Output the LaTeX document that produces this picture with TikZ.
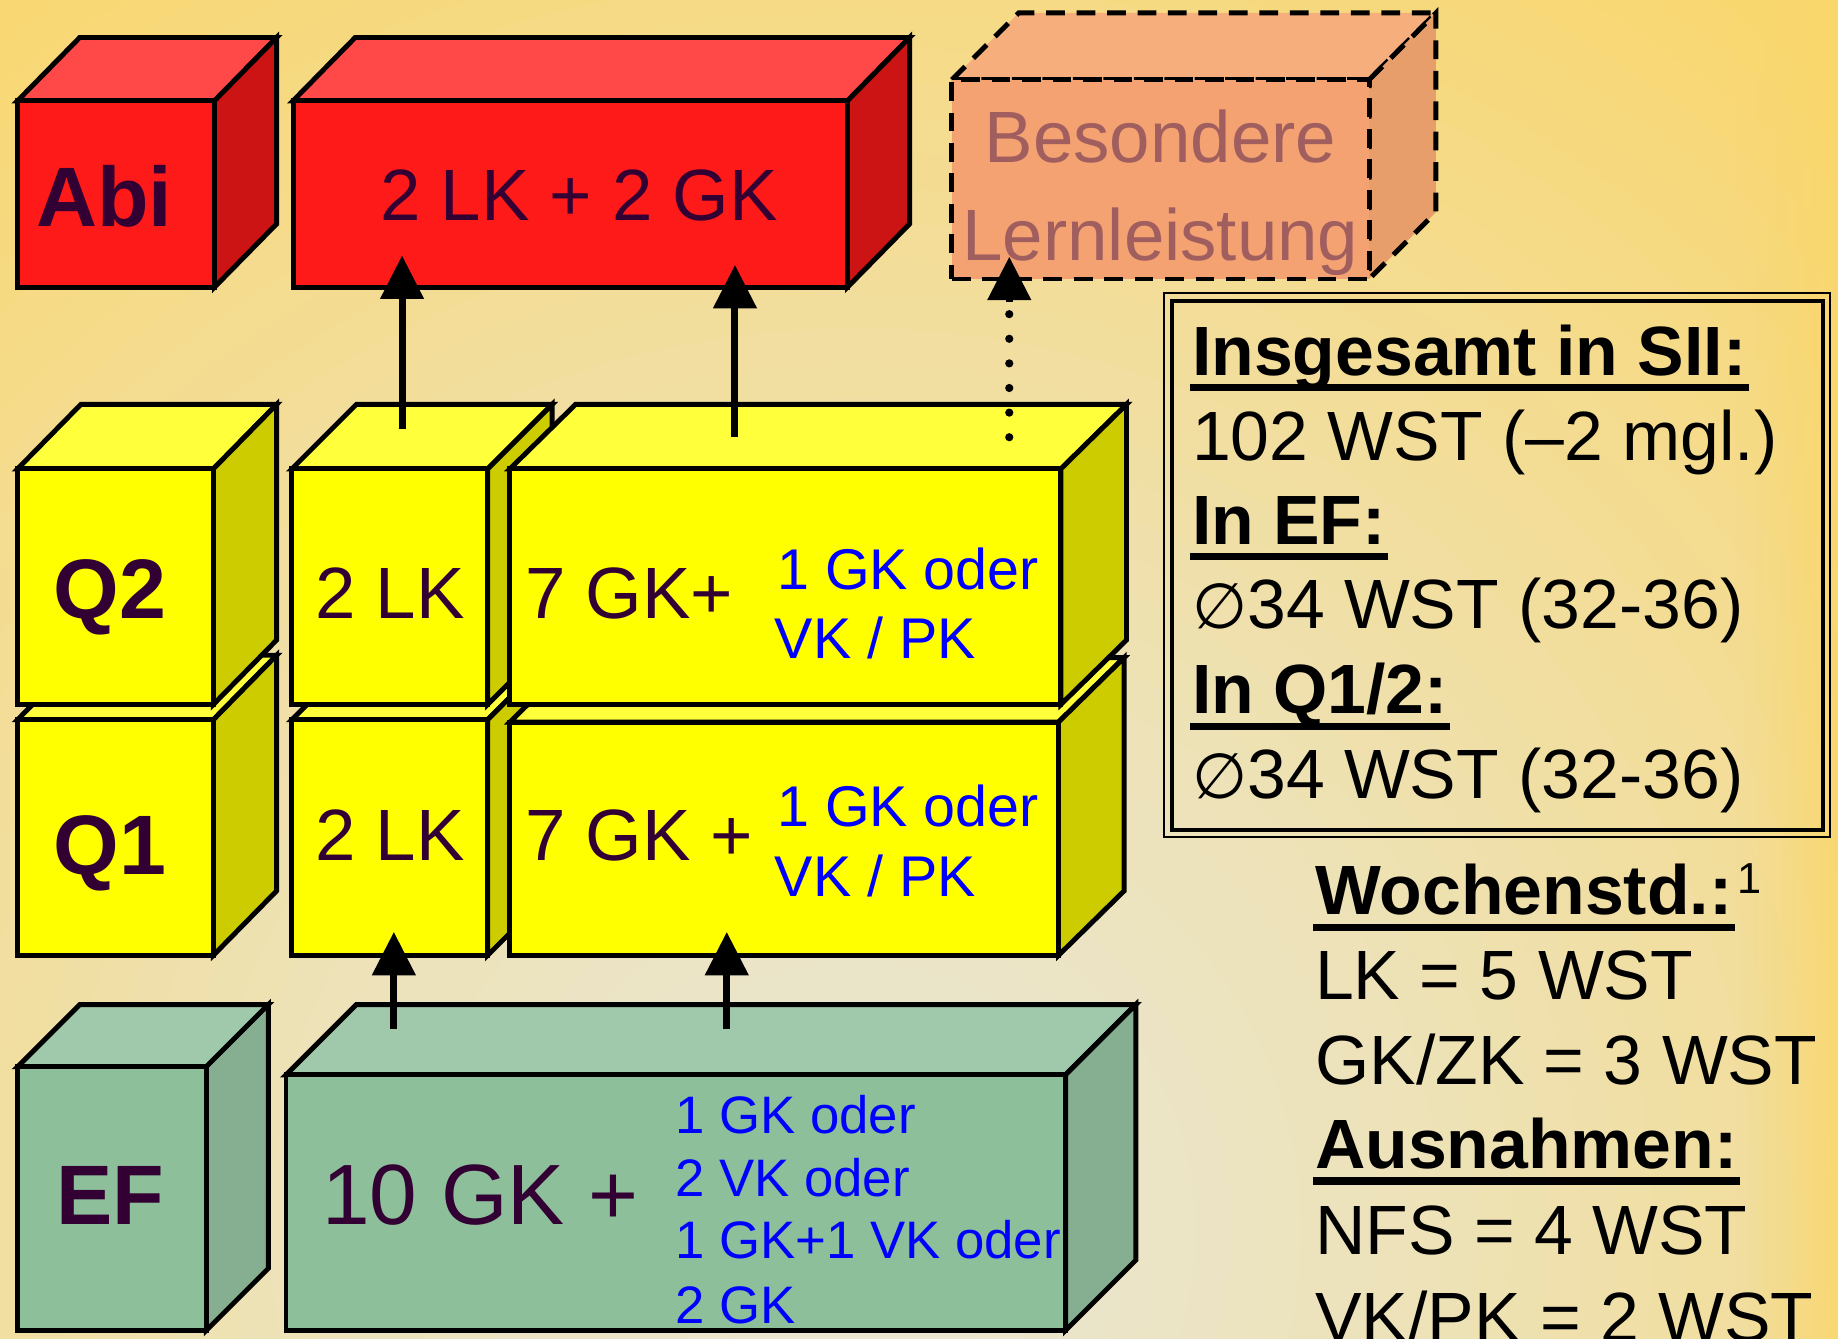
\documentclass[tikz,border=0pt]{standalone}
\usepackage{fontspec}
\setmainfont{Liberation Sans}
\newfontfamily\djv{DejaVu Sans}
\usetikzlibrary{arrows.meta,calc}
\definecolor{redF}{HTML}{FF1A1A}
\definecolor{redT}{HTML}{FF4848}
\definecolor{redS}{HTML}{CC1414}
\definecolor{yelF}{HTML}{FFFF00}
\definecolor{yelT}{HTML}{FFFF3C}
\definecolor{yelS}{HTML}{CCCC00}
\definecolor{grnF}{HTML}{8DBF9B}
\definecolor{grnT}{HTML}{A0C9AB}
\definecolor{grnS}{HTML}{86AF91}
\definecolor{salF}{HTML}{F4A272}
\definecolor{salT}{HTML}{F6AE7C}
\definecolor{salS}{HTML}{E79E6A}
\definecolor{dpurple}{HTML}{330033}
\definecolor{rose}{HTML}{A05E5E}
\definecolor{bgA}{HTML}{E8E6D6}
\definecolor{bgC}{HTML}{EDE2B8}
\definecolor{bgF}{HTML}{F9D770}
\definecolor{bgR}{HTML}{FAD76C}
% #1 extra style, #2 name, #3 x1, #4 y1, #5 x2, #6 y2, #7 dx, #8 dy (up), #9 colour prefix
\newcommand{\cuboid}[9][]{%
  \pgfmathsetmacro\cbw{#5-#3}%
  \pgfmathsetmacro\cbh{#6-#4}%
  \draw[boxedge,#1,fill=#9T] (#3,#4) -- ++(#7,-#8) -- ({#5+#7},{#4-#8}) -- (#5,#4) -- cycle;
  \draw[boxedge,#1,fill=#9S] (#5,#4) -- ++(#7,-#8) -- ({#5+#7},{#6-#8}) -- (#5,#6) -- cycle;
  \node[boxedge,#1,fill=#9F,minimum width=\cbw pt,minimum height=\cbh pt,anchor=north west] (#2) at (#3,#4) {};
}
\newcommand{\uline}[1]{\fill ($(#1.base west)+(-2,7.5)$) rectangle ($(#1.base east)+(2,13.5)$);}
\begin{document}
\begin{tikzpicture}[x=1pt,y=-1pt,
  boxedge/.style={draw=black,line width=4.2pt,inner sep=0pt,outer sep=0pt},
  dashedbox/.style={dash pattern=on 16pt off 10pt},
  txt/.style={inner sep=0pt,outer sep=0pt},
  lbl/.style={txt,text=dpurple,font=\fontsize{72}{80}\selectfont\bfseries},
  big/.style={txt,text=dpurple,font=\fontsize{62}{70}\selectfont},
  bes/.style={txt,text=rose,font=\fontsize{62}{70}\selectfont},
  bl/.style={txt,text=blue,font=\fontsize{49}{59}\selectfont},
  blef/.style={txt,text=blue,font=\fontsize{45}{54}\selectfont},
  inf/.style={txt,text=black,font=\fontsize{59.5}{72}\selectfont},
  infb/.style={txt,text=black,font=\fontsize{59.5}{72}\selectfont\bfseries},
  arr/.style={line width=6pt,draw=black,-{Triangle[length=37pt,width=36pt]}},
  dots/.style={line width=7pt,draw=black,line cap=round,dash pattern=on 0pt off 21pt}
]
\useasboundingbox (0,0) rectangle (1568,1142);
% background: stepped radial gradient plus a yellow band at the right edge
\begin{scope}
  \clip (0,0) rectangle (1568,1142);
  \fill[bgF] (0,0) rectangle (1568,1142);
  \foreach \r in {1400,1370,...,20}{%
    \ifdim\r pt>500pt
      \pgfmathsetmacro\tt{min(100,(\r-500)/8)}%
      \colorlet{cc}{bgF!\tt!bgC}%
    \else
      \pgfmathsetmacro\tt{\r/5}%
      \colorlet{cc}{bgC!\tt!bgA}%
    \fi
    \fill[cc] (730,1050) circle (\r);
  }
  \foreach \i in {0,...,21}{%
    \pgfmathsetmacro\op{0.85*((\i+0.5)/22)^1.3}%
    \fill[bgR,fill opacity=\op] ({1480+4*\i},0) rectangle ({1484+4*\i},1142);
  }
\end{scope}

% Abi row
\cuboid{abil}{15}{86}{183}{245}{53}{54}{red}
\cuboid{abim}{250}{86}{723}{245}{53}{54}{red}
\cuboid[dashedbox]{bll}{812}{68}{1168}{238}{57}{57}{sal}

% Q1 row
\cuboid{qone}{15}{614}{182}{815}{54}{55}{yel}
\cuboid{qonelk}{249}{614}{416}{815}{55}{55}{yel}
\cuboid{qonegk}{435}{616}{903}{815}{56}{55}{yel}
% Q2 row
\cuboid{qtwo}{15}{400}{182}{601}{54}{55}{yel}
\cuboid{qtwolk}{249}{400}{416}{601}{55}{55}{yel}
\cuboid{qtwogk}{435}{400}{905}{601}{56}{55}{yel}
% EF row
\cuboid{efl}{15}{910}{176}{1135}{53}{53}{grn}
\cuboid{efm}{244}{917}{909}{1135}{60}{60}{grn}

% texts in boxes
\node[lbl,anchor=base] (tabi) at (89,193) {Abi};
\node[big,anchor=base] (tabim) at (494,188) {2 LK + 2 GK};
\node[bes,anchor=base] (tbes1) at (990,139) {Besondere};
\node[bes,anchor=base] (tbes2) at (990,222) {Lernleistung};

\node[lbl,anchor=base] (tq2) at (94,528) {Q2};
\node[big,anchor=base west] (tq2lk) at (269,528) {2 LK};
\node[big,anchor=base west] (tq2gk) at (448,528) {7 GK+};
\node[bl,anchor=base west] (tq2b1) at (663,503) {1 GK oder};
\node[bl,anchor=base west] (tq2b2) at (661,562) {VK / PK};

\node[lbl,anchor=base] (tq1) at (94,746) {Q1};
\node[big,anchor=base west] (tq1lk) at (269,734) {2 LK};
\node[big,anchor=base west] (tq1gk) at (448,734) {7 GK +};
\node[bl,anchor=base west] (tq1b1) at (663,705) {1 GK oder};
\node[bl,anchor=base west] (tq1b2) at (661,765) {VK / PK};

\node[lbl,anchor=base] (tef) at (94,1045) {EF};
\node[txt,text=dpurple,font=\fontsize{73}{80}\selectfont,anchor=base west] (tefgk) at (275,1045) {10 GK +};
\node[blef,anchor=base west] (tefb1) at (576,967) {1 GK oder};
\node[blef,anchor=base west] (tefb2) at (576,1021) {2 VK oder};
\node[blef,anchor=base west] (tefb3) at (576,1074) {1 GK+1 VK oder};
\node[blef,anchor=base west] (tefb4) at (576,1129) {2 GK};

% arrows
\coordinate (a1s) at (343,366); \coordinate (a1e) at (343,218);
\coordinate (a2s) at (627,373); \coordinate (a2e) at (627,226);
\coordinate (a3s) at (861,373); \coordinate (a3m) at (861,262);
\coordinate (a3n) at (861,258); \coordinate (a3e) at (861,219);
\coordinate (a4s) at (336,878); \coordinate (a4e) at (336,795);
\coordinate (a5s) at (620,878); \coordinate (a5e) at (620,795);
\draw[arr] (a1s) -- (a1e);
\draw[arr] (a2s) -- (a2e);
\draw[dots] (a3s) -- (a3m);
\draw[arr] (a3n) -- (a3e);
\draw[arr] (a4s) -- (a4e);
\draw[arr] (a5s) -- (a5e);

% info box
\draw[line width=2pt] (993,250) rectangle (1561,714);
\draw[line width=3.2pt] (1000,257) rectangle (1555,708);
\node[infb,anchor=base west] (i1) at (1017,320) {Insgesamt in SII:};
\node[inf,anchor=base west] (i2) at (1017,392.5) {102 WST (–2 mgl.)};
\node[infb,anchor=base west] (i3) at (1017,464.5) {In EF:};
\node[inf,anchor=base west] (i4) at (1017,536.5) {{\fontsize{54}{60}\djv ∅}34 WST (32-36)};
\node[infb,anchor=base west] (i5) at (1017,609) {In Q1/2:};
\node[inf,anchor=base west] (i6) at (1017,681) {{\fontsize{54}{60}\djv ∅}34 WST (32-36)};
\uline{i1}
\uline{i3}
\uline{i5}

% Wochenstunden
\node[infb,anchor=base west] (w1) at (1122,780.5) {Wochenstd.:};
\node[txt,font=\fontsize{37}{40}\selectfont,anchor=base west] (w1s) at ($(w1.base east)+(4,-18)$) {1};
\node[inf,anchor=base west] (w2) at (1122,853) {LK = 5 WST};
\node[inf,anchor=base west] (w3) at (1122,925.5) {GK/ZK = 3 WST};
\node[infb,anchor=base west] (w4) at (1122,997) {Ausnahmen:};
\node[inf,anchor=base west] (w5) at (1122,1070.5) {NFS = 4 WST};
\node[inf,anchor=base west] (w6) at (1122,1144) {VK/PK = 2 WST};
\uline{w1}
\uline{w4}
\end{tikzpicture}
\end{document}
